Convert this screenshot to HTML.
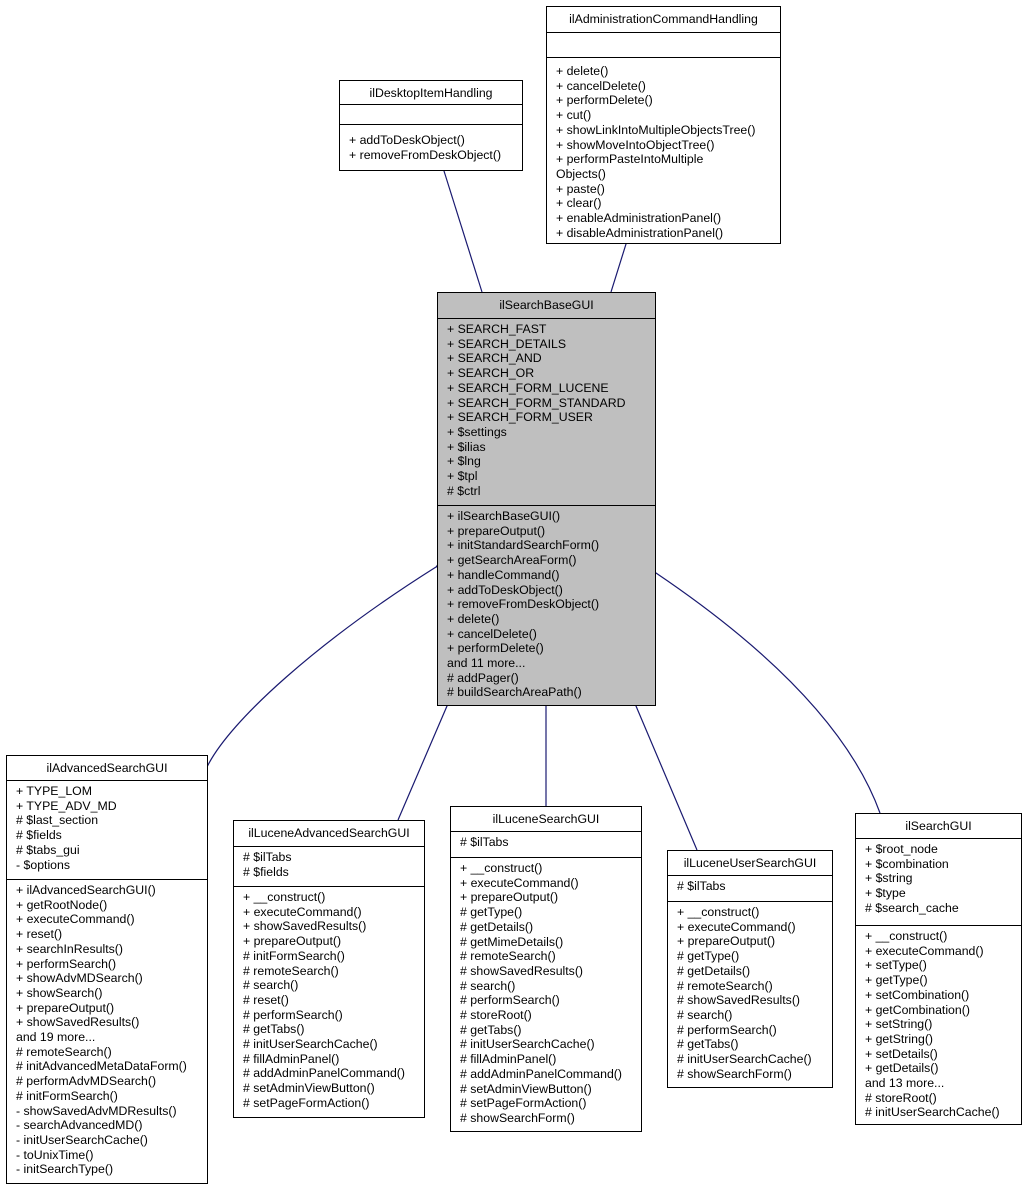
<!DOCTYPE html>
<html><head><meta charset="utf-8"><style>
body{margin:0;width:1027px;height:1189px;background:#fff;position:relative;font-family:"Liberation Sans",sans-serif;font-size:12.3px;color:#000;overflow:hidden}
.b{position:absolute;border:1px solid #000;box-sizing:border-box;background:#fff}
.g{background:#bfbfbf}
.s{box-sizing:border-box;border-bottom:1px solid #000;padding:3px 0 0 9px;line-height:14.7px;white-space:pre;overflow:hidden}
.s:last-child{border-bottom:none}
.t{text-align:center;padding:5px 0 0 0}
svg{position:absolute;left:0;top:0}
</style></head><body>
<svg width="1027" height="1189">
<defs><marker id="a" markerWidth="14" markerHeight="12" refX="1" refY="6" orient="auto-start-reverse" markerUnits="userSpaceOnUse"><path d="M13,1 L1,6 L13,11 Z" fill="#fff" stroke="#191970" stroke-width="1"/></marker></defs>
<g fill="none" stroke="#191970" stroke-width="1.2">
<path d="M444,171 L482,292" marker-start="url(#a)"/>
<path d="M626,244 L611,292" marker-start="url(#a)"/>
<path d="M436,567 C320,640 230,720 207,767" marker-start="url(#a)"/>
<path d="M447,706 L398,820" marker-start="url(#a)"/>
<path d="M546,706 L546,806" marker-start="url(#a)"/>
<path d="M636,706 L697,850" marker-start="url(#a)"/>
<path d="M656,573 C770,650 850,730 880,813" marker-start="url(#a)"/>
</g></svg>

<div class="b" style="left:339px;top:80px;width:184px;height:91px">
<div class="s t" style="height:24px">ilDesktopItemHandling</div>
<div class="s" style="height:20px"></div>
<div class="s" style="height:45px;padding-top:8px">+ addToDeskObject()
+ removeFromDeskObject()</div></div>

<div class="b" style="left:546px;top:6px;width:235px;height:238px">
<div class="s t" style="height:26px">ilAdministrationCommandHandling</div>
<div class="s" style="height:25px"></div>
<div class="s" style="height:185px;padding-top:6px">+ delete()
+ cancelDelete()
+ performDelete()
+ cut()
+ showLinkIntoMultipleObjectsTree()
+ showMoveIntoObjectTree()
+ performPasteIntoMultiple
Objects()
+ paste()
+ clear()
+ enableAdministrationPanel()
+ disableAdministrationPanel()</div></div>

<div class="b g" style="left:437px;top:292px;width:219px;height:414px">
<div class="s t" style="height:26px">ilSearchBaseGUI</div>
<div class="s" style="height:187px">+ SEARCH_FAST
+ SEARCH_DETAILS
+ SEARCH_AND
+ SEARCH_OR
+ SEARCH_FORM_LUCENE
+ SEARCH_FORM_STANDARD
+ SEARCH_FORM_USER
+ $settings
+ $ilias
+ $lng
+ $tpl
# $ctrl</div>
<div class="s" style="height:199px">+ ilSearchBaseGUI()
+ prepareOutput()
+ initStandardSearchForm()
+ getSearchAreaForm()
+ handleCommand()
+ addToDeskObject()
+ removeFromDeskObject()
+ delete()
+ cancelDelete()
+ performDelete()
and 11 more...
# addPager()
# buildSearchAreaPath()</div></div>

<div class="b" style="left:6px;top:755px;width:202px;height:429px">
<div class="s t" style="height:25px">ilAdvancedSearchGUI</div>
<div class="s" style="height:99px">+ TYPE_LOM
+ TYPE_ADV_MD
# $last_section
# $fields
# $tabs_gui
- $options</div>
<div class="s" style="height:303px">+ ilAdvancedSearchGUI()
+ getRootNode()
+ executeCommand()
+ reset()
+ searchInResults()
+ performSearch()
+ showAdvMDSearch()
+ showSearch()
+ prepareOutput()
+ showSavedResults()
and 19 more...
# remoteSearch()
# initAdvancedMetaDataForm()
# performAdvMDSearch()
# initFormSearch()
- showSavedAdvMDResults()
- searchAdvancedMD()
- initUserSearchCache()
- toUnixTime()
- initSearchType()</div></div>

<div class="b" style="left:233px;top:820px;width:192px;height:298px">
<div class="s t" style="height:26px">ilLuceneAdvancedSearchGUI</div>
<div class="s" style="height:40px">#&nbsp;$ilTabs
# $fields</div>
<div class="s" style="height:230px">+ __construct()
+ executeCommand()
+ showSavedResults()
+ prepareOutput()
# initFormSearch()
# remoteSearch()
# search()
# reset()
# performSearch()
# getTabs()
# initUserSearchCache()
# fillAdminPanel()
# addAdminPanelCommand()
# setAdminViewButton()
# setPageFormAction()</div></div>

<div class="b" style="left:450px;top:806px;width:192px;height:326px">
<div class="s t" style="height:25px">ilLuceneSearchGUI</div>
<div class="s" style="height:26px"># $ilTabs</div>
<div class="s" style="height:273px">+ __construct()
+ executeCommand()
+ prepareOutput()
# getType()
# getDetails()
# getMimeDetails()
# remoteSearch()
# showSavedResults()
# search()
# performSearch()
# storeRoot()
# getTabs()
# initUserSearchCache()
# fillAdminPanel()
# addAdminPanelCommand()
# setAdminViewButton()
# setPageFormAction()
# showSearchForm()</div></div>

<div class="b" style="left:667px;top:850px;width:166px;height:238px">
<div class="s t" style="height:25px">ilLuceneUserSearchGUI</div>
<div class="s" style="height:26px"># $ilTabs</div>
<div class="s" style="height:185px">+ __construct()
+ executeCommand()
+ prepareOutput()
# getType()
# getDetails()
# remoteSearch()
# showSavedResults()
# search()
# performSearch()
# getTabs()
# initUserSearchCache()
# showSearchForm()</div></div>

<div class="b" style="left:855px;top:813px;width:167px;height:312px">
<div class="s t" style="height:25px">ilSearchGUI</div>
<div class="s" style="height:87px">+ $root_node
+ $combination
+ $string
+ $type
# $search_cache</div>
<div class="s" style="height:198px">+ __construct()
+ executeCommand()
+ setType()
+ getType()
+ setCombination()
+ getCombination()
+ setString()
+ getString()
+ setDetails()
+ getDetails()
and 13 more...
# storeRoot()
# initUserSearchCache()</div></div>
</body></html>
